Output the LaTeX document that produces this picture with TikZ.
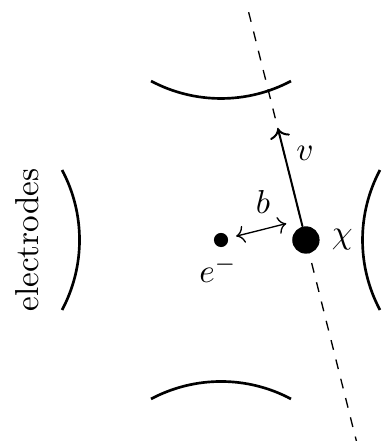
\documentclass[tikz,border=0pt]{standalone}
\usepackage{tikz}
\usetikzlibrary{arrows.meta, calc, positioning}
\tikzset{
  trap electrode/.style={
    line width=0.8pt,
    draw=black
  },
  trap particle/.style={
    circle,
    fill=black,
    inner sep=0pt
  },
  trap path/.style={
    dashed,
    line width=0.4pt
  },
  trap velocity/.style={
    -{To},
    line width=0.6pt
  },
  trap impact/.style={
    {To}-{To},
    line width=0.4pt,
    shorten <=0.083cm,
    shorten >=0.159cm
  },
  trap side label/.style={
    rotate=90
  }
}

\begin{document}
\begin{tikzpicture}[x=1cm,y=1cm]
\useasboundingbox (-2.343,-2.131) rectangle (1.717,2.544);

\draw[trap electrode] ([shift={(0,3.08)}]242:1.58) arc[start angle=242, end angle=298, radius=1.58];
\draw[trap electrode] ([shift={(0,-3.08)}]62:1.58) arc[start angle=62, end angle=118, radius=1.58];
\draw[trap electrode] ([shift={(-3.08,0)}]-28:1.58) arc[start angle=-28, end angle=28, radius=1.58];
\draw[trap electrode] ([shift={(3.08,0)}]152:1.58) arc[start angle=152, end angle=208, radius=1.58];

\node[trap side label] (label) at (-2.056,0) {electrodes};

\coordinate (pathtop) at (0.293,2.415);
\coordinate (pathbottom) at (1.435,-2.131);
\coordinate (vtip) at (0.603,1.183);

\draw[trap path] (pathtop) -- (pathbottom);

\node[trap particle, minimum size=0.15cm] (electron) at (0,0) {};
\node[trap particle, minimum size=0.29cm] (chi) at (0.9,0) {};

\coordinate (foot) at ($(chi)!(electron)!(vtip)$);

\draw[trap velocity] (chi) -- (vtip);
\draw[trap impact] (electron) -- (foot);

\node (vlabel) at (0.89,0.92) {$v$};
\node (blabel) at (0.445,0.40) {$b$};
\node[right=0pt of chi] (chilabel) {$\chi$};
\node[anchor=base] (elabel) at (-0.03,-0.456) {$e^-$};
\end{tikzpicture}
\end{document}
